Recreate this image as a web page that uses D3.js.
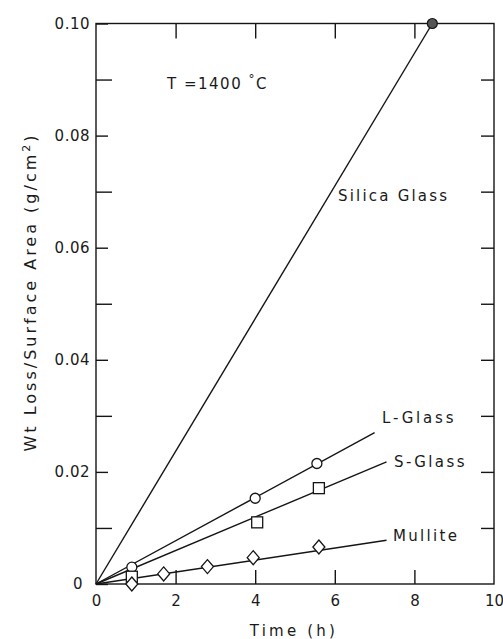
<!DOCTYPE html>
<html>
<head>
<meta charset="utf-8">
<script src="https://cdn.jsdelivr.net/npm/d3@7"></script>
<style>
  html, body { margin: 0; padding: 0; background: #fff; }
  svg { display: block; }
  text { font-family: "DejaVu Sans", "Liberation Sans", sans-serif; fill: #1a1a1a; }
</style>
</head>
<body>
<svg id="chart" width="503" height="639"></svg>
<script>
// Weight loss per surface area vs. time at 1400 °C
const xTicks = [0, 2, 4, 6, 8, 10];
const xTickLabels = ["0", "2", "4", "6", "8", "10"];
const yTicks = [0, 0.02, 0.04, 0.06, 0.08, 0.10];
const yTickLabels = ["0", "0.02", "0.04", "0.06", "0.08", "0.10"];
const yMinorTicks = [0.01, 0.03, 0.05, 0.07, 0.09];

// measured points
const lGlassTime = [0.9, 4.0, 5.55];
const lGlassLoss = [0.0030, 0.0153, 0.0215];
const sGlassTime = [0.9, 4.05, 5.6];
const sGlassLoss = [0.0013, 0.0110, 0.0171];
const mulliteTime = [0.9, 1.7, 2.8, 3.95, 5.6];
const mulliteLoss = [0.0, 0.0018, 0.0031, 0.0047, 0.0066];
const silicaTime = [8.45];
const silicaLoss = [0.100];

// fitted lines, drawn from the origin to their end point
const fitNames = ["Silica Glass", "L-Glass", "S-Glass", "Mullite"];
const fitEndTime = [8.45, 7.0, 7.3, 7.3];
const fitEndLoss = [0.100, 0.0270, 0.0218, 0.0078];

const svg = d3.select("#chart");
const x = d3.scaleLinear().domain([0, 10]).range([96, 494]);
const y = d3.scaleLinear().domain([0, 0.10]).range([584, 23.5]);
const ink = "#151515";

// frame
svg.append("rect")
  .attr("x", x(0)).attr("y", y(0.10))
  .attr("width", x(10) - x(0)).attr("height", y(0) - y(0.10))
  .attr("fill", "none").attr("stroke", ink).attr("stroke-width", 1.4);

function styleAxis(g) {
  g.select(".domain").remove();
  g.selectAll(".tick line").attr("stroke", ink).attr("stroke-width", 1.4);
  g.selectAll(".tick text").attr("fill", ink);
}

// left axis: labelled ticks
svg.append("g").attr("transform", `translate(${x(0)},0)`)
  .call(d3.axisLeft(y).tickValues(yTicks)
    .tickFormat((d, i) => yTickLabels[i]).tickSize(-12).tickPadding(6))
  .call(styleAxis)
  .call(g => g.selectAll(".tick text").attr("font-size", 15).attr("letter-spacing", 0.5)
    .filter(d => d === 0).attr("dx", -7));
// left axis: minor ticks
svg.append("g").attr("transform", `translate(${x(0)},0)`)
  .call(d3.axisLeft(y).tickValues(yMinorTicks).tickFormat("").tickSize(-16))
  .call(styleAxis);
// right axis ticks
svg.append("g").attr("transform", `translate(${x(10)},0)`)
  .call(d3.axisRight(y).tickValues(yMinorTicks.concat([0.02, 0.04, 0.06, 0.08])).tickFormat("").tickSize(-13))
  .call(styleAxis);
// bottom axis
svg.append("g").attr("transform", `translate(0,${y(0)})`)
  .call(d3.axisBottom(x).tickValues(xTicks).tickFormat((d, i) => xTickLabels[i]).tickSize(0).tickPadding(11))
  .call(styleAxis)
  .call(g => g.selectAll(".tick text").attr("font-size", 15));
svg.append("g").attr("transform", `translate(0,${y(0)})`)
  .call(d3.axisBottom(x).tickValues([2, 4, 6, 8]).tickFormat("").tickSize(-14))
  .call(styleAxis);
// top axis ticks
svg.append("g").attr("transform", `translate(0,${y(0.10)})`)
  .call(d3.axisTop(x).tickValues([2, 4, 6, 8]).tickFormat("").tickSize(-15))
  .call(styleAxis);

// fitted lines
const plot = svg.append("g");
plot.selectAll("line.fit")
  .data(fitNames.map((n, i) => ({ n, t: fitEndTime[i], v: fitEndLoss[i] })))
  .join("line").attr("class", "fit")
  .attr("x1", x(0)).attr("y1", y(0))
  .attr("x2", d => x(d.t)).attr("y2", d => y(d.v))
  .attr("stroke", ink).attr("stroke-width", 1.4);

function pts(ts, vs) { return ts.map((t, i) => ({ t, v: vs[i] })); }

// L-Glass: open circles
plot.selectAll("circle.lg").data(pts(lGlassTime, lGlassLoss)).join("circle")
  .attr("class", "lg").attr("cx", d => x(d.t)).attr("cy", d => y(d.v)).attr("r", 5)
  .attr("fill", "#fff").attr("stroke", ink).attr("stroke-width", 1.3);
// S-Glass: open squares
plot.selectAll("rect.sg").data(pts(sGlassTime, sGlassLoss)).join("rect")
  .attr("class", "sg").attr("x", d => x(d.t) - 5.5).attr("y", d => y(d.v) - 5.5)
  .attr("width", 11).attr("height", 11)
  .attr("fill", "#fff").attr("stroke", ink).attr("stroke-width", 1.3);
// Mullite: open diamonds
plot.selectAll("path.mu").data(pts(mulliteTime, mulliteLoss)).join("path")
  .attr("class", "mu")
  .attr("d", d => { const cx = x(d.t), cy = y(d.v);
    return `M${cx},${cy - 7}L${cx + 6},${cy}L${cx},${cy + 7}L${cx - 6},${cy}Z`; })
  .attr("fill", "#fff").attr("stroke", ink).attr("stroke-width", 1.3);
// Silica glass: filled circle
plot.selectAll("circle.si").data(pts(silicaTime, silicaLoss)).join("circle")
  .attr("class", "si").attr("cx", d => x(d.t)).attr("cy", d => y(d.v)).attr("r", 5)
  .attr("fill", "#555").attr("stroke", ink).attr("stroke-width", 1.2);

// series labels
const labelPos = [
  { t: "Silica Glass", x: 338, y: 201, ls: 2.2 },
  { t: "L-Glass", x: 382, y: 423, ls: 2.8 },
  { t: "S-Glass", x: 394, y: 467, ls: 2.4 },
  { t: "Mullite", x: 393, y: 541, ls: 2.3 }
];
svg.selectAll("text.series").data(labelPos).join("text")
  .attr("class", "series").attr("x", d => d.x).attr("y", d => d.y)
  .attr("font-size", 15).attr("letter-spacing", d => d.ls).text(d => d.t);

// temperature note
const note = svg.append("text").attr("x", 167).attr("y", 89).attr("font-size", 15).attr("letter-spacing", 1.5);
note.append("tspan").text("T =1400 ");
note.append("tspan").attr("dy", -6).attr("font-size", 12).text("°");
note.append("tspan").attr("dy", 6).text("C");

// axis titles
svg.append("text").attr("x", 294).attr("y", 636).attr("text-anchor", "middle")
  .attr("font-size", 15).attr("letter-spacing", 3.2).text("Time (h)");
const yl = svg.append("text").attr("transform", "translate(36,292) rotate(-90)")
  .attr("text-anchor", "middle").attr("font-size", 16).attr("letter-spacing", 3);
yl.append("tspan").text("Wt Loss/Surface Area (g/cm");
yl.append("tspan").attr("dy", -6).attr("font-size", 11).text("2");
yl.append("tspan").attr("dy", 6).text(")");
</script>
</body>
</html>
